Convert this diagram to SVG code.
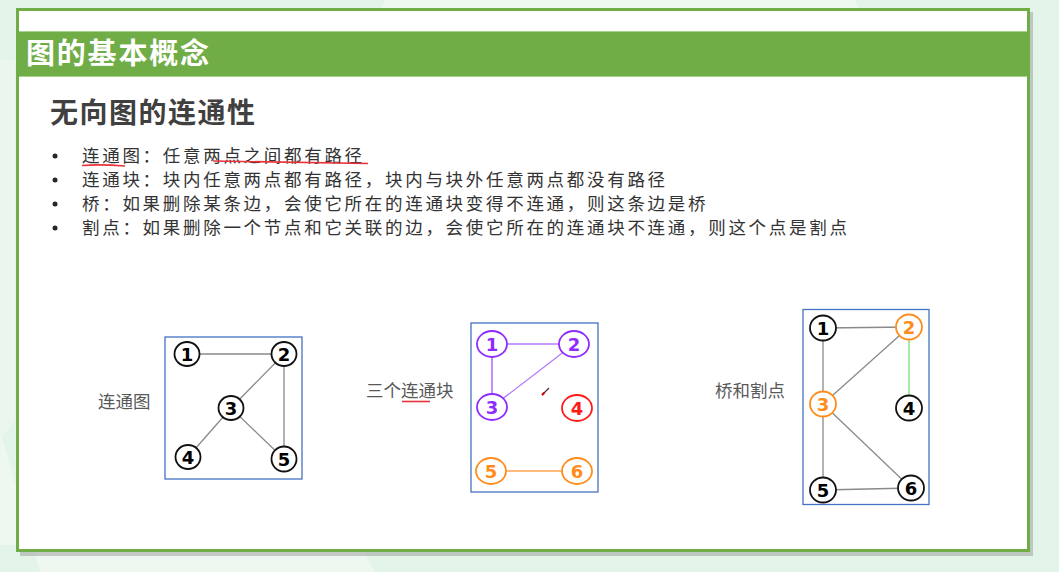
<svg xmlns="http://www.w3.org/2000/svg" width="1059" height="572" viewBox="0 0 1059 572">
<defs>
<style>
.cjk{font-family:"Noto Sans CJK SC","Noto Sans",sans-serif}
.bul{font-size:17.5px;letter-spacing:2.7px;fill:#333}
.lbl{font-size:17.5px;fill:#595959}
.num{font-family:"DejaVu Sans","Liberation Sans",sans-serif;font-weight:bold;font-size:18px;text-anchor:middle;dominant-baseline:central}
.nb{fill:#fff;stroke:#111;stroke-width:1.8}
.np{fill:#fff;stroke:#8F2BFF;stroke-width:1.8}
.nr{fill:#fff;stroke:#FF1A1A;stroke-width:1.8}
.no{fill:#fff;stroke:#FF8C1A;stroke-width:1.8}
.box{fill:#fff;stroke:#4472C4;stroke-width:1.3}
.e{stroke:#8a8a8a;stroke-width:1.3;fill:none}
</style>
</defs>
<rect width="1059" height="572" fill="#E3F4E9"/>
<polygon points="385,0 855,0 860,10 380,10" fill="#EEF8F0"/>
<polygon points="0,430 40,572 375,572 360,545 0,545" fill="#EEF8F0"/>
<polygon points="0,60 15,60 15,420 0,440" fill="#EAF6EE"/>
<rect x="20" y="12" width="1013" height="544" fill="#9a9a9a" opacity="0.5"/>
<rect x="17.5" y="9.5" width="1011" height="541" fill="#fff" stroke="#70AD47" stroke-width="3"/>
<rect x="19" y="31" width="1008" height="46" fill="#70AD47"/>
<line x1="19" y1="31.5" x2="1027" y2="31.5" stroke="#A9D18E" stroke-width="1"/>
<line x1="19" y1="76.5" x2="1027" y2="76.5" stroke="#A9D18E" stroke-width="1"/>
<text x="26" y="64" class="cjk" font-size="29" letter-spacing="1.8" font-weight="bold" fill="#fff">图的基本概念</text>
<text x="50" y="123" class="cjk" font-size="28" letter-spacing="1.5" font-weight="bold" fill="#404040">无向图的连通性</text>
<g fill="#262626">
<circle cx="55" cy="156" r="2.5"/><circle cx="55" cy="180" r="2.5"/><circle cx="55" cy="204" r="2.5"/><circle cx="55" cy="228" r="2.5"/>
</g>
<text x="82" y="162" class="cjk bul">连通图：任意两点之间都有路径</text>
<text x="82" y="186" class="cjk bul">连通块：块内任意两点都有路径，块内与块外任意两点都没有路径</text>
<text x="82" y="210" class="cjk bul">桥：如果删除某条边，会使它所在的连通块变得不连通，则这条边是桥</text>
<text x="82" y="234" class="cjk bul">割点：如果删除一个节点和它关联的边，会使它所在的连通块不连通，则这个点是割点</text>
<g stroke="#E8333A" stroke-width="1.6" fill="none">
<path d="M82,165.5 Q100,164 125,166"/>
<path d="M213,161 Q290,162 368,163.5"/>
<path d="M402,401.5 L430,401.5"/>
</g>
<text x="98" y="408" class="cjk lbl">连通图</text>
<text x="366" y="397" class="cjk lbl">三个连通块</text>
<text x="715" y="397" class="cjk lbl">桥和割点</text>
<rect class="box" x="165" y="337" width="137" height="142"/>
<rect class="box" x="471" y="323" width="127" height="169"/>
<rect class="box" x="803" y="309.5" width="126" height="195"/>
<g id="connectors">
<line class="e" x1="187" y1="354" x2="284" y2="354"/>
<line class="e" x1="284" y1="354" x2="231" y2="408"/>
<line class="e" x1="284" y1="354" x2="284" y2="459"/>
<line class="e" x1="231" y1="408" x2="188" y2="457"/>
<line class="e" x1="231" y1="408" x2="284" y2="459"/>
<line x1="492" y1="344" x2="574" y2="344" stroke="#B57BFF" stroke-width="1.3"/>
<line x1="492" y1="344" x2="492" y2="407" stroke="#A055FF" stroke-width="1.3"/>
<line x1="574" y1="344" x2="492" y2="407" stroke="#B57BFF" stroke-width="1.3"/>
<line x1="491" y1="471" x2="577" y2="471" stroke="#FFA54D" stroke-width="1.3"/>
<line class="e" x1="823" y1="328" x2="909" y2="327"/>
<line class="e" x1="823" y1="328" x2="823" y2="404"/>
<line class="e" x1="909" y1="327" x2="823" y2="404"/>
<line x1="909" y1="327" x2="909" y2="408" stroke="#77DD77" stroke-width="1.3"/>
<line class="e" x1="823" y1="404" x2="823" y2="490"/>
<line class="e" x1="823" y1="404" x2="911" y2="488"/>
<line class="e" x1="823" y1="490" x2="911" y2="488"/>
</g>
<g id="g1-n1"><ellipse class="nb" cx="187" cy="354" rx="12.5" ry="12"/><text class="num" x="187" y="354">1</text></g>
<g id="g1-n2"><ellipse class="nb" cx="284" cy="354" rx="12.5" ry="12"/><text class="num" x="284" y="354">2</text></g>
<g id="g1-n3"><ellipse class="nb" cx="231" cy="408" rx="12.5" ry="12"/><text class="num" x="231" y="408">3</text></g>
<g id="g1-n4"><ellipse class="nb" cx="188" cy="457" rx="12.5" ry="12"/><text class="num" x="188" y="457">4</text></g>
<g id="g1-n5"><ellipse class="nb" cx="284" cy="459" rx="12.5" ry="12.5"/><text class="num" x="284" y="459">5</text></g>
<g id="g2-n1"><ellipse class="np" cx="492" cy="344" rx="15" ry="13"/><text class="num" x="492" y="344" fill="#8F2BFF">1</text></g>
<g id="g2-n2"><ellipse class="np" cx="574" cy="344" rx="15" ry="13"/><text class="num" x="574" y="344" fill="#8F2BFF">2</text></g>
<g id="g2-n3"><ellipse class="np" cx="492" cy="407" rx="15" ry="13"/><text class="num" x="492" y="407" fill="#8F2BFF">3</text></g>
<g id="g2-n4"><ellipse class="nr" cx="577" cy="408" rx="15" ry="13"/><text class="num" x="577" y="408" fill="#FF1A1A">4</text></g>
<g id="g2-n5"><ellipse class="no" cx="491" cy="471" rx="15" ry="13"/><text class="num" x="491" y="471" fill="#FF8C1A">5</text></g>
<g id="g2-n6"><ellipse class="no" cx="577" cy="471" rx="15" ry="13"/><text class="num" x="577" y="471" fill="#FF8C1A">6</text></g>
<g id="g3-n1"><ellipse class="nb" cx="823" cy="328" rx="13" ry="12.5"/><text class="num" x="823" y="328">1</text></g>
<g id="g3-n2"><ellipse class="no" cx="909" cy="327" rx="13" ry="12.5"/><text class="num" x="909" y="327" fill="#FF8C1A">2</text></g>
<g id="g3-n3"><ellipse class="no" cx="823" cy="404" rx="13" ry="12.5"/><text class="num" x="823" y="404" fill="#FF8C1A">3</text></g>
<g id="g3-n4"><ellipse class="nb" cx="909" cy="408" rx="13" ry="12.5"/><text class="num" x="909" y="408">4</text></g>
<g id="g3-n5"><ellipse class="nb" cx="823" cy="490" rx="13" ry="12.5"/><text class="num" x="823" y="490">5</text></g>
<g id="g3-n6"><ellipse class="nb" cx="911" cy="488" rx="13" ry="12.5"/><text class="num" x="911" y="488">6</text></g>
<path d="M542,395 L549,388" stroke="#553333" stroke-width="1.2"/>
<path d="M542,395 L544.5,392.5" stroke="#E00000" stroke-width="2"/>
</svg>
